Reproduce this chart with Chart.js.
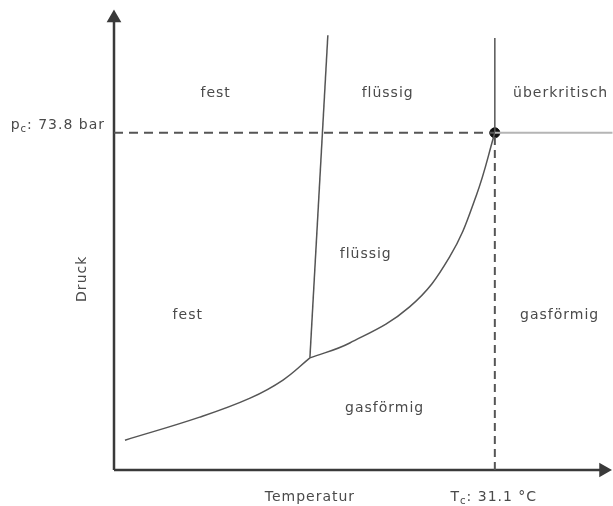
<!DOCTYPE html>
<html>
<head>
<meta charset="utf-8">
<script src="https://cdn.jsdelivr.net/npm/chart.js@4"></script>
<style>
  html, body { margin: 0; padding: 0; background: #fff; }
  #wrap { width: 613px; height: 506px; }
</style>
</head>
<body>
<div id="wrap"><canvas id="phaseChart"></canvas></div>
<script>
// values in arbitrary units (temperature 0-100, pressure 0-100)
const criticalT = 76.4;
const criticalP = 74.6;

const sublimationT = [2.2, 17.2, 27.3, 33.9, 39.3];
const sublimationP = [6.6, 11.7, 15.9, 19.9, 24.8];

const vaporT = [39.3, 47.3, 59.3, 67.3, 72.7, 76.4];
const vaporP = [24.8, 28.1, 36.1, 47.1, 60.8, 74.6];

const meltingT = [39.3, 42.9];
const meltingP = [24.8, 96.2];

const regionLabels = ["fest", "flüssig", "überkritisch", "flüssig", "fest", "gasförmig", "gasförmig"];
const regionLabelT = [20.4, 54.9, 89.6, 50.5, 14.8, 89.4, 54.3];
const regionLabelP = [83.4, 83.4, 83.4, 47.6, 34.3, 34.3, 13.7];

function toPoints(xs, ys) {
  return xs.map((x, i) => ({ x: x, y: ys[i] }));
}

const textColor = "#4a4a4a";
const lineColor = "#555555";
const axisColor = "#3a3a3a";
const FONT = "14px 'DejaVu Sans', sans-serif";
const SUB_FONT = "10px 'DejaVu Sans', sans-serif";

function drawSubLabel(ctx, main, sub, rest, x, y, align) {
  ctx.font = FONT;
  const wMain = ctx.measureText(main).width;
  const wRest = ctx.measureText(rest).width;
  ctx.font = SUB_FONT;
  const wSub = ctx.measureText(sub).width;
  const total = wMain + wSub + wRest;
  let start = align === "right" ? x - total : x - total / 2;
  ctx.textAlign = "left";
  ctx.font = FONT;
  ctx.fillText(main, start, y);
  ctx.font = SUB_FONT;
  ctx.fillText(sub, start + wMain, y + 4);
  ctx.font = FONT;
  ctx.fillText(rest, start + wMain + wSub, y);
}

const labelPlugin = {
  id: "labelPlugin",
  afterDatasetsDraw(chart) {
    const ctx = chart.ctx;
    const xs = chart.scales.x;
    const ys = chart.scales.y;
    ctx.save();
    ctx.fillStyle = textColor;
    ctx.letterSpacing = "1px";
    ctx.font = FONT;
    ctx.textAlign = "center";
    ctx.textBaseline = "middle";

    regionLabels.forEach((label, i) => {
      ctx.fillText(label, xs.getPixelForValue(regionLabelT[i]), ys.getPixelForValue(regionLabelP[i]));
    });

    // axis titles
    ctx.fillText("Temperatur", xs.getPixelForValue(39.3), ys.getPixelForValue(-6.0));

    ctx.save();
    ctx.translate(xs.getPixelForValue(-6.4), ys.getPixelForValue(42.3));
    ctx.rotate(-Math.PI / 2);
    ctx.fillText("Druck", 0, 0);
    ctx.restore();

    drawSubLabel(ctx, "T", "c", ": 31.1 °C", xs.getPixelForValue(76.2), ys.getPixelForValue(-6.0), "center");
    drawSubLabel(ctx, "p", "c", ": 73.8 bar", xs.getPixelForValue(-1.8), ys.getPixelForValue(76.3), "right");

    ctx.restore();
  },
};

const lineBase = {
  showLine: true,
  fill: false,
  pointRadius: 0,
  clip: false,
};

new Chart(document.getElementById("phaseChart"), {
  type: "scatter",
  data: {
    datasets: [
      {
        ...lineBase,
        data: toPoints([0, criticalT], [criticalP, criticalP]),
        borderColor: lineColor,
        borderWidth: 2,
        borderDash: [9, 6],
      },
      {
        ...lineBase,
        data: toPoints([criticalT, criticalT], [0, criticalP]),
        borderColor: lineColor,
        borderWidth: 2,
        borderDash: [8, 5],
      },
      {
        ...lineBase,
        data: toPoints([criticalT, 100], [criticalP, criticalP]),
        borderColor: "#b5b5b5",
        borderWidth: 2,
      },
      {
        ...lineBase,
        data: toPoints([criticalT, criticalT], [criticalP, 95.6]),
        borderColor: lineColor,
        borderWidth: 1.5,
      },
      {
        ...lineBase,
        data: toPoints(meltingT, meltingP),
        borderColor: lineColor,
        borderWidth: 1.5,
      },
      {
        ...lineBase,
        data: toPoints(sublimationT, sublimationP),
        borderColor: lineColor,
        borderWidth: 1.5,
        tension: 0.4,
      },
      {
        ...lineBase,
        data: toPoints(vaporT, vaporP),
        borderColor: lineColor,
        borderWidth: 1.5,
        tension: 0.4,
      },
      {
        ...lineBase,
        data: toPoints([0, 98.2], [0, 0]),
        borderColor: axisColor,
        borderWidth: 2.5,
        pointRadius: [0, 6],
        pointStyle: "triangle",
        rotation: 90,
        pointBackgroundColor: axisColor,
        pointBorderColor: axisColor,
      },
      {
        ...lineBase,
        data: toPoints([0, 0], [0, 100]),
        borderColor: axisColor,
        borderWidth: 2.5,
        pointRadius: [0, 6],
        pointStyle: "triangle",
        pointBackgroundColor: axisColor,
        pointBorderColor: axisColor,
      },
      {
        data: [{ x: criticalT, y: criticalP }],
        pointRadius: 5,
        pointBackgroundColor: "#111",
        pointBorderColor: "#111",
        clip: false,
      },
    ],
  },
  options: {
    responsive: true,
    maintainAspectRatio: false,
    animation: false,
    layout: {
      padding: { left: 114, right: 0, top: 18, bottom: 36 },
    },
    scales: {
      x: { type: "linear", min: 0, max: 98.4, display: false },
      y: { type: "linear", min: 0, max: 100, display: false },
    },
    plugins: {
      legend: { display: false },
      tooltip: { enabled: false },
    },
  },
  plugins: [labelPlugin],
});
</script>
</body>
</html>
